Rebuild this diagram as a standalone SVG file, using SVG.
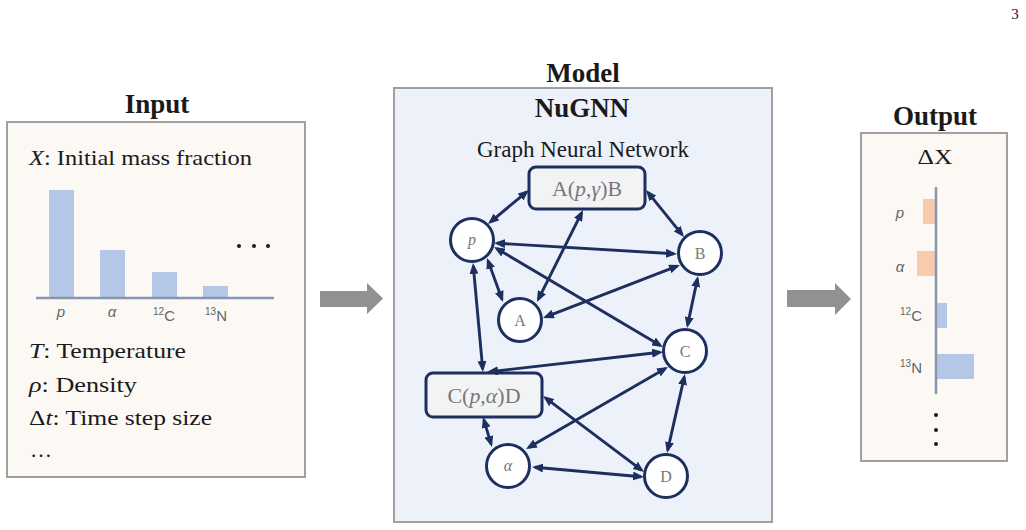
<svg xmlns="http://www.w3.org/2000/svg" width="1026" height="530" viewBox="0 0 1026 530">
<defs>
<style>
.serif{font-family:"Liberation Serif","Times New Roman",serif;}
.sans{font-family:"Liberation Sans",Arial,sans-serif;}
.title{font-family:"Liberation Serif","Times New Roman",serif;font-weight:bold;font-size:27px;fill:#1a1a1a;text-anchor:middle;}
.body{font-family:"Liberation Serif","Times New Roman",serif;font-size:22px;fill:#1a1a1a;}
.panel{stroke:#a0a0a0;stroke-width:2;}
.bar-b{fill:#b4c7e7;}
.bar-o{fill:#f8cbad;}
.axis{stroke:#8496b0;stroke-width:2.5;fill:none;}
.lab{font-family:"Liberation Sans",Arial,sans-serif;font-size:15px;fill:#666;text-anchor:middle;}
.node circle{fill:#ffffff;stroke:#1c2f5f;stroke-width:3;}
.node rect{fill:#f2f3f5;stroke:#1c2f5f;stroke-width:3;}
.nlab{font-family:"Liberation Serif","Times New Roman",serif;font-size:16px;fill:#777;text-anchor:middle;}
.blab{font-family:"Liberation Serif","Times New Roman",serif;font-size:20px;fill:#777;text-anchor:middle;}
.edges line{stroke:#1c2f5f;stroke-width:2.9;marker-start:url(#ah);marker-end:url(#ah);}
.block{fill:#919191;}
</style>
<marker id="ah" viewBox="0 0 11 9" refX="8" refY="4.5" markerWidth="11" markerHeight="9" markerUnits="userSpaceOnUse" orient="auto-start-reverse">
<path d="M0,0 L11,4.5 L0,9 z" fill="#1c2f5f"/>
</marker>
</defs>
<rect x="0" y="0" width="1026" height="530" fill="#ffffff"/>
<text class="serif" x="1015" y="19" font-size="15" text-anchor="middle" fill="#1a1a1a">3</text>

<!-- Input panel -->
<g id="input">
<text class="title" x="157" y="113">Input</text>
<rect class="panel" x="7" y="122" width="298" height="355" fill="#fcf9f4"/>
<text class="body" x="29" y="165" textLength="223" lengthAdjust="spacingAndGlyphs"><tspan font-style="italic">X</tspan>: Initial mass fraction</text>
<rect class="bar-b" x="49" y="190" width="25" height="108"/>
<rect class="bar-b" x="100" y="250" width="25" height="48"/>
<rect class="bar-b" x="152" y="272" width="25" height="26"/>
<rect class="bar-b" x="203" y="286" width="25" height="12"/>
<line class="axis" x1="36" y1="298" x2="274" y2="298"/>
<text class="lab" x="61" y="317" font-style="italic">p</text>
<text class="lab" x="112" y="317" font-style="italic">α</text>
<text class="lab" x="164" y="321"><tspan font-size="10" dy="-6">12</tspan><tspan dy="6">C</tspan></text>
<text class="lab" x="216" y="321"><tspan font-size="10" dy="-6">13</tspan><tspan dy="6">N</tspan></text>
<circle cx="239" cy="246" r="2" fill="#1a1a1a"/>
<circle cx="254" cy="246" r="2" fill="#1a1a1a"/>
<circle cx="268" cy="246" r="2" fill="#1a1a1a"/>
<text class="body" x="29" y="358" textLength="157" lengthAdjust="spacingAndGlyphs"><tspan font-style="italic">T</tspan>: Temperature</text>
<text class="body" x="29" y="392" textLength="108" lengthAdjust="spacingAndGlyphs"><tspan font-style="italic">ρ</tspan>: Density</text>
<text class="body" x="29" y="425" textLength="183" lengthAdjust="spacingAndGlyphs">Δ<tspan font-style="italic">t</tspan>: Time step size</text>
<text class="body" x="30" y="457">…</text>
</g>

<polygon class="block" points="320,291 367,291 367,283 383,298.5 367,314 367,307 320,307"/>
<polygon class="block" points="787,290 835,290 835,283 851,299 835,315 835,307 787,307"/>

<!-- Model panel -->
<g id="model">
<text class="title" x="583" y="82">Model</text>
<rect class="panel" x="394" y="88" width="378" height="434" fill="#edf1f9"/>
<text class="title" x="582" y="117" font-size="23">NuGNN</text>
<text class="serif" x="583" y="157" font-size="23" text-anchor="middle" fill="#1a1a1a">Graph Neural Network</text>
</g>

<g id="node-ApgB" class="node">
<rect x="529" y="167" width="116" height="42" rx="7"/>
<text class="blab" x="587" y="196" textLength="70" lengthAdjust="spacingAndGlyphs">A(<tspan font-style="italic">p</tspan>,<tspan font-style="italic">γ</tspan>)B</text>
</g>
<g id="node-CpaD" class="node">
<rect x="426" y="373" width="116" height="44" rx="7"/>
<text class="blab" x="484" y="403" textLength="73" lengthAdjust="spacingAndGlyphs">C(<tspan font-style="italic">p</tspan>,<tspan font-style="italic">α</tspan>)D</text>
</g>
<g id="node-p" class="node">
<circle cx="472" cy="240" r="21.5"/>
<text class="nlab" x="472" y="245" font-style="italic">p</text>
</g>
<g id="node-B" class="node">
<circle cx="700" cy="253" r="21.5"/>
<text class="nlab" x="700" y="259">B</text>
</g>
<g id="node-A" class="node">
<circle cx="520" cy="320" r="21.5"/>
<text class="nlab" x="520" y="326">A</text>
</g>
<g id="node-C" class="node">
<circle cx="685" cy="351" r="21.5"/>
<text class="nlab" x="685" y="357">C</text>
</g>
<g id="node-alpha" class="node">
<circle cx="508" cy="466" r="21.5"/>
<text class="nlab" x="508" y="471" font-style="italic">α</text>
</g>
<g id="node-D" class="node">
<circle cx="666" cy="476" r="21.5"/>
<text class="nlab" x="666" y="482">D</text>
</g>

<g id="connectors" class="edges">
<line x1="490.3" y1="222.1" x2="526.7" y2="191.9"/>
<line x1="647.9" y1="192.3" x2="682.1" y2="234.7"/>
<line x1="581.7" y1="212.7" x2="538.3" y2="299.3"/>
<line x1="497" y1="243.2" x2="674" y2="253.8"/>
<line x1="496.6" y1="248.5" x2="660.4" y2="345.5"/>
<line x1="488" y1="260.8" x2="502" y2="299.2"/>
<line x1="473.3" y1="266" x2="482.7" y2="369"/>
<line x1="545.8" y1="316.9" x2="677.2" y2="266.1"/>
<line x1="697.4" y1="278.9" x2="687.6" y2="325.1"/>
<line x1="490" y1="371.7" x2="660" y2="352.3"/>
<line x1="665.4" y1="368.5" x2="528.6" y2="447.5"/>
<line x1="684.3" y1="376.9" x2="667.7" y2="450.1"/>
<line x1="545.4" y1="397.8" x2="641.6" y2="470.2"/>
<line x1="483.9" y1="419.9" x2="491.1" y2="444.1"/>
<line x1="535" y1="467.3" x2="641" y2="476.7"/>
</g>

<!-- Output panel -->
<g id="output">
<text class="title" x="935" y="125">Output</text>
<rect class="panel" x="861" y="133" width="146" height="328" fill="#fcf9f4"/>
<text class="serif" x="935" y="164" font-size="21" text-anchor="middle" fill="#1a1a1a" textLength="35" lengthAdjust="spacingAndGlyphs">ΔX</text>
<rect class="bar-o" x="923" y="199" width="13" height="25"/>
<rect class="bar-o" x="917" y="251" width="19" height="25"/>
<rect class="bar-b" x="936" y="303" width="11" height="25"/>
<rect class="bar-b" x="936" y="354" width="38" height="25"/>
<line class="axis" x1="936" y1="187" x2="936" y2="394"/>
<text class="lab" x="900" y="218" font-style="italic">p</text>
<text class="lab" x="900" y="272" font-style="italic">α</text>
<text class="lab" x="911" y="321" text-anchor="end"><tspan font-size="10" dy="-6">12</tspan><tspan dy="6">C</tspan></text>
<text class="lab" x="911" y="373" text-anchor="end"><tspan font-size="10" dy="-6">13</tspan><tspan dy="6">N</tspan></text>
<circle cx="936" cy="415" r="2" fill="#1a1a1a"/>
<circle cx="936" cy="430" r="2" fill="#1a1a1a"/>
<circle cx="936" cy="444" r="2" fill="#1a1a1a"/>
</g>
</svg>
